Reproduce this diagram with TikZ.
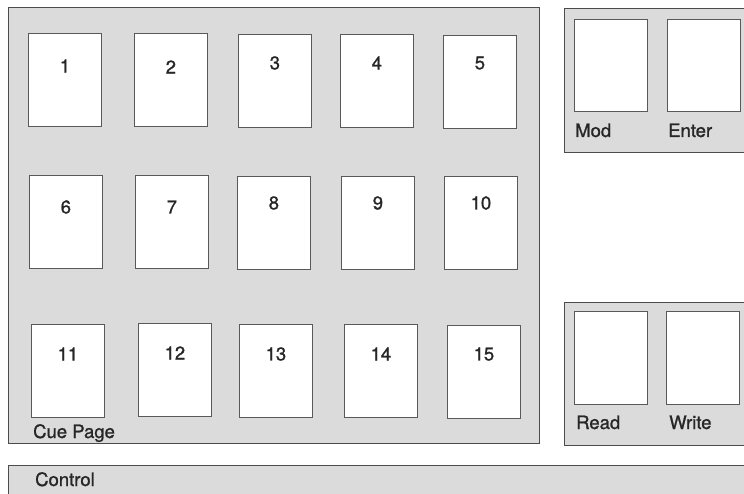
\documentclass[tikz,border=0pt]{standalone}
\usepackage{fontspec}
\setmainfont{TeX Gyre Heros}
\newfontfamily\lblfont[FakeBold=1.1]{TeX Gyre Heros}
\begin{document}
\begin{tikzpicture}[x=1pt,y=-1pt,
  panel/.style={draw=black!70, line width=0.8pt, fill=black!14, anchor=north west, inner sep=0pt, minimum width=#1},
  pagebox/.style={draw=black!65, line width=0.8pt, fill=white, anchor=north west, inner sep=0pt, minimum width=73pt, minimum height=93pt},
  num/.style={text=black!85, font=\lblfont\fontsize{18.5}{22}\selectfont, inner sep=0pt, anchor=center},
  lbl/.style={text=black!85, font=\lblfont\fontsize{18.5}{22}\selectfont, inner sep=0pt, anchor=base west}]
\clip (0,0) rectangle (744,494);
\fill[white] (0,0) rectangle (744,494);
% panels
\node[panel=531pt, minimum height=436pt] (cue) at (8,7) {};
\node[panel=190pt, minimum height=144pt] (entry) at (564,8) {};
\node[panel=190pt, minimum height=143pt] (rw) at (564,302) {};
\node[panel=750pt, minimum height=40pt] (ctrl) at (8,465) {};
% page boxes
\foreach \n/\x/\y/\o in {1/28/33/33, 2/134/33/34, 3/238/34/29, 4/340/34/29, 5/443/35/28,
                          6/29/175/32, 7/135/175/32, 8/237/176/27, 9/341/176/27, 10/444/176/27,
                          11/31/324/30, 12/138/323/30, 13/239/324/30, 14/344/324/30, 15/447/325/29}{
  \node[pagebox] (b\n) at (\x,\y) {};
  \path (b\n.north) ++(0,\o) node[num] (n\n) {\n};
}
% right boxes
\node[pagebox, minimum height=92pt] (bmod) at (574,19) {};
\node[pagebox, minimum height=92pt] (benter) at (667,19) {};
\node[pagebox] (bread) at (574,311) {};
\node[pagebox] (bwrite) at (666,311) {};
% labels
\node[lbl] (lmod) at (575,137) {Mod};
\node[lbl] (lenter) at (668,137) {Enter};
\node[lbl] (lread) at (576,429) {Read};
\node[lbl] (lwrite) at (669,429) {Write};
\node[lbl] (lcue) at (33,438) {Cue Page};
\node[lbl] (lctrl) at (35,486) {Control};
\end{tikzpicture}
\end{document}
